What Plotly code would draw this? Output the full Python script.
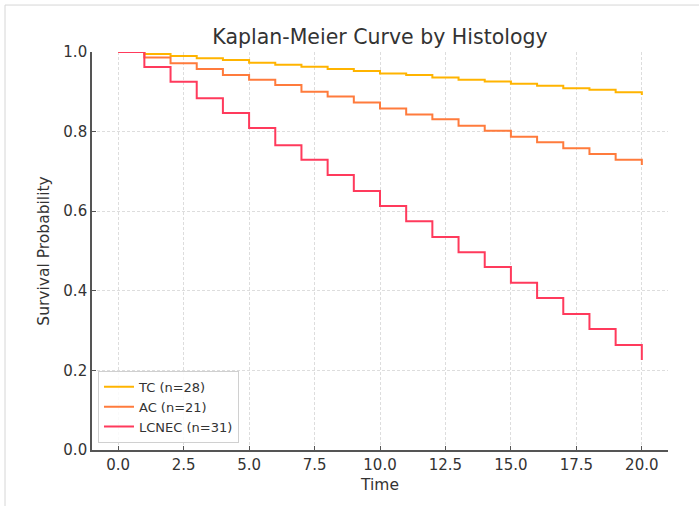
import plotly.graph_objects as go

times = list(range(0, 21))
tc = [1.0, 0.995, 0.990, 0.984, 0.980, 0.973, 0.968, 0.963, 0.957, 0.952, 0.946,
      0.942, 0.936, 0.930, 0.926, 0.920, 0.915, 0.909, 0.905, 0.899, 0.892]
ac = [1.0, 0.986, 0.972, 0.957, 0.942, 0.930, 0.917, 0.900, 0.888, 0.873, 0.858,
      0.843, 0.831, 0.815, 0.802, 0.787, 0.773, 0.758, 0.744, 0.729, 0.716]
lcnec = [1.0, 0.962, 0.925, 0.884, 0.847, 0.809, 0.766, 0.729, 0.691, 0.651, 0.613,
         0.575, 0.535, 0.497, 0.460, 0.420, 0.382, 0.342, 0.304, 0.264, 0.226]

series = [("TC (n=28)", tc, "#ffb400"),
          ("AC (n=21)", ac, "#ff7b3c"),
          ("LCNEC (n=31)", lcnec, "#ff3a5c")]

x_ticks = [0, 2.5, 5, 7.5, 10, 12.5, 15, 17.5, 20]
y_ticks = [0.0, 0.2, 0.4, 0.6, 0.8, 1.0]

fig = go.Figure()
for name, vals, col in series:
    fig.add_trace(go.Scatter(x=times, y=vals, mode="lines", name=name,
                             line=dict(color=col, width=2, shape="hv")))

font = "DejaVu Sans, Verdana, sans-serif"
axis_common = dict(showline=True, linecolor="#555555", linewidth=1.6,
                   ticks="inside", ticklen=4, tickwidth=1.2, tickcolor="#555555",
                   showgrid=True, gridcolor="#dddddd", gridwidth=1, griddash="3px,2px",
                   zeroline=False, mirror=False,
                   tickfont=dict(family=font, size=15, color="#333333"))

fig.update_layout(
    width=699, height=506,
    margin=dict(l=92, r=31, t=52, b=56),
    paper_bgcolor="white", plot_bgcolor="white",
    title=dict(text="Kaplan-Meier Curve by Histology", x=0.5, xref="paper",
               y=1 - 37 / 506, yanchor="middle",
               font=dict(family=font, size=20.5, color="#333333")),
    xaxis=dict(range=[-1, 21], tickvals=x_ticks,
               ticktext=[f"{v:.1f}" for v in x_ticks],
               title=dict(text="Time", font=dict(family=font, size=15.5, color="#333333"), standoff=6),
               **axis_common),
    yaxis=dict(range=[0, 1], tickvals=y_ticks,
               ticktext=[f"{v:.1f}" for v in y_ticks],
               title=dict(text="Survival Probability", font=dict(family=font, size=15.5, color="#333333"), standoff=10),
               **axis_common),
    legend=dict(x=0.0104, y=0.018, xanchor="left", yanchor="bottom",
                bgcolor="rgba(255,255,255,0.85)", bordercolor="#d0d0d0", borderwidth=1,
                font=dict(family=font, size=13, color="#333333"),
                tracegroupgap=0, itemwidth=30),
    showlegend=True,
)

# light screenshot border (top and left)
fig.add_shape(type="line", xref="paper", yref="paper",
              x0=-0.151, x1=1.06, y0=1.118, y1=1.118,
              line=dict(color="#d6d6d6", width=1))
fig.add_shape(type="line", xref="paper", yref="paper",
              x0=-0.151, x1=-0.151, y0=1.118, y1=-0.15,
              line=dict(color="#d6d6d6", width=1))

fig.write_html("out.html")
